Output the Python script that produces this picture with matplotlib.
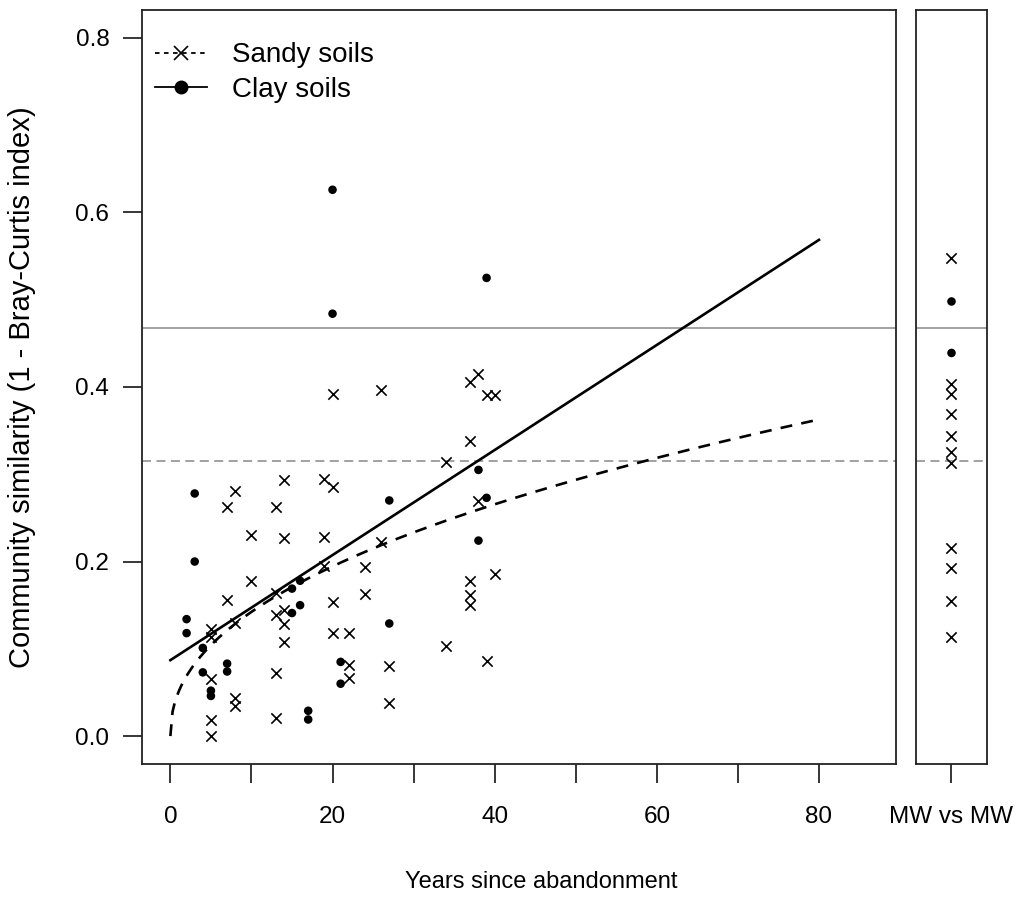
import numpy as np
import matplotlib.pyplot as plt
from matplotlib.lines import Line2D

plt.rcParams['font.family'] = ['Liberation Sans', 'DejaVu Sans']

# sandy soils (crosses): years since abandonment, similarity
sandy_x = [5, 5, 5, 5, 5, 7, 7, 8, 8, 8, 8, 10, 10,
           13, 13, 13, 13, 13, 14, 14, 14, 14, 14,
           19, 19, 19, 20, 20, 20, 20, 22, 22, 22, 24, 24,
           26, 26, 27, 27, 34, 34, 37, 37, 37, 37, 37,
           38, 38, 39, 39, 40, 40]
sandy_y = [0.0, 0.018, 0.065, 0.114, 0.123, 0.262, 0.156, 0.281, 0.129, 0.044, 0.034, 0.23, 0.178,
           0.262, 0.164, 0.139, 0.072, 0.021, 0.293, 0.227, 0.145, 0.128, 0.108,
           0.295, 0.228, 0.195, 0.392, 0.285, 0.154, 0.118, 0.118, 0.081, 0.067, 0.194, 0.163,
           0.396, 0.222, 0.080, 0.038, 0.314, 0.103, 0.406, 0.338, 0.178, 0.162, 0.150,
           0.415, 0.269, 0.391, 0.086, 0.391, 0.186]

# clay soils (dots)
clay_x = [2, 2, 3, 3, 4, 4, 5, 5, 7, 7, 15, 15, 16, 16, 17, 17,
          20, 20, 21, 21, 27, 27, 38, 38, 39, 39]
clay_y = [0.134, 0.118, 0.278, 0.200, 0.101, 0.073, 0.052, 0.046, 0.083, 0.074,
          0.169, 0.141, 0.178, 0.150, 0.029, 0.019,
          0.626, 0.484, 0.085, 0.060, 0.270, 0.129, 0.305, 0.224, 0.525, 0.273]

# mature woodland vs mature woodland
mw_sandy = [0.548, 0.403, 0.392, 0.369, 0.344, 0.325, 0.313, 0.216, 0.193, 0.155, 0.114]
mw_clay = [0.498, 0.439]
mw_sandy_mean = 0.315
mw_clay_mean = 0.468

# fitted models
clay_fit = (0.087, 0.00602)      # intercept, slope
sandy_fit = (0.0505, 0.45)       # y = a * x^b
fit_end = 80

x_ticks = [0, 10, 20, 30, 40, 50, 60, 70, 80]
x_labels = ['0', '', '20', '', '40', '', '60', '', '80']
y_ticks = [0.0, 0.2, 0.4, 0.6, 0.8]

fig = plt.figure(figsize=(10.2, 8.98), dpi=100)
ax = fig.add_axes([142/1020, 1-764/898, 754/1020, 754/898])
ax2 = fig.add_axes([916/1020, 1-764/898, 71/1020, 754/898])

ylim = (-0.032, 0.832)
grey = '#9a9a9a'

# reference lines
for a in (ax, ax2):
    a.axhline(mw_clay_mean, color=grey, lw=1.3, zorder=1)
    a.axhline(mw_sandy_mean, color=grey, lw=1.3, ls=(0, (5, 3)), zorder=1)

xs = np.linspace(0, fit_end, 300)
ax.plot(xs, clay_fit[0] + clay_fit[1]*xs, color='black', lw=1.9)
ax.plot(xs, sandy_fit[0]*xs**sandy_fit[1], color='black', lw=1.9, ls=(0, (4.5, 3.5)))

ax.scatter(sandy_x, sandy_y, marker='x', s=55, color='black', linewidths=1.2, zorder=3)
ax.scatter(clay_x, clay_y, marker='o', s=38, color='black', edgecolors='none', zorder=3)

ax2.scatter([1]*len(mw_sandy), mw_sandy, marker='x', s=55, color='black', linewidths=1.2, zorder=3)
ax2.scatter([1]*len(mw_clay), mw_clay, marker='o', s=38, color='black', edgecolors='none', zorder=3)

ax.set_xlim(-3.5, 89.5)
ax.set_ylim(*ylim)
ax.set_xticks(x_ticks)
ax.set_xticklabels(x_labels)
ax.set_yticks(y_ticks)
ax.set_yticklabels(['0.0', '0.2', '0.4', '0.6', '0.8'])
ax.tick_params(axis='x', length=13.5, width=1.1, pad=17, labelsize=17.5)
ax.tick_params(axis='y', length=13.5, width=1.1, pad=10, labelsize=17.5)

ax2.set_xlim(0, 2)
ax2.set_ylim(*ylim)
ax2.set_xticks([1])
ax2.set_xticklabels(['MW vs MW'])
ax2.set_yticks([])
ax2.tick_params(axis='x', length=13.5, width=1.1, pad=17, labelsize=17.5)

for a in (ax, ax2):
    for s in a.spines.values():
        s.set_linewidth(1.3)
        s.set_color('#222222')

handles = [Line2D([], [], color='black', lw=1.3, ls=(0, (2.5, 2.5)), marker='x', ms=10, mew=1.2),
           Line2D([], [], color='black', lw=1.3, marker='o', ms=9)]
ax.legend(handles, ['Sandy soils', 'Clay soils'], loc='upper left', frameon=False,
          fontsize=20, handlelength=1.87, handletextpad=0.9, labelspacing=0.3,
          bbox_to_anchor=(-0.008, 0.983), borderaxespad=0.3)

fig.text(541/1020, 1-882/898, 'Years since abandonment', ha='center', va='center', fontsize=17)
fig.text(22/1020, 1-387/898, 'Community similarity (1 - Bray-Curtis index)', ha='center', va='center',
         rotation=90, fontsize=21)

fig.savefig('out.png', dpi=100)
